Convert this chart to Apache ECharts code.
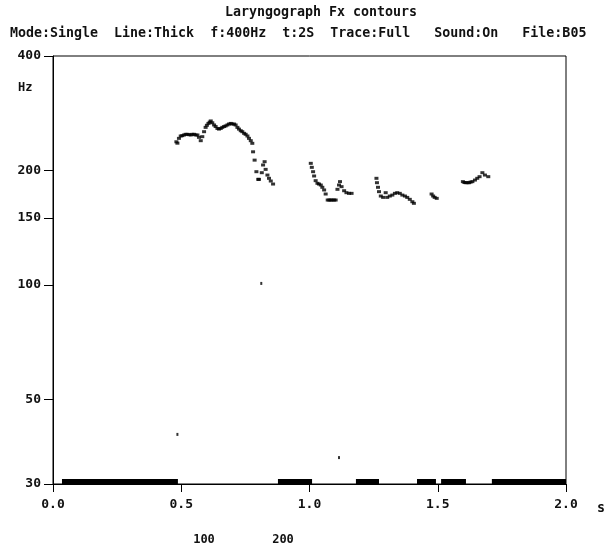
<!DOCTYPE html>
<html>
<head>
<meta charset="utf-8">
<script src="https://cdn.jsdelivr.net/npm/echarts@6/dist/echarts.min.js"></script>
<style>
  html, body { margin: 0; padding: 0; background: #fff; }
  #chart { width: 608px; height: 550px; }
</style>
</head>
<body>
<div id="chart"></div>
<script>
// Fx contour: [time s, Fx Hz]
const contour1 = [
  [0.481, 238], [0.485, 236], [0.491, 243], [0.498, 246.5], [0.504, 247], [0.511, 248], [0.517, 249],
  [0.524, 249], [0.530, 248.5], [0.537, 248], [0.543, 249], [0.550, 249], [0.556, 248], [0.563, 248],
  [0.569, 244.5], [0.576, 239.6], [0.582, 245.5], [0.589, 253], [0.595, 259.7], [0.600, 263],
  [0.606, 266], [0.611, 268], [0.615, 270], [0.621, 267], [0.628, 263.5], [0.634, 261], [0.641, 258],
  [0.647, 257], [0.654, 258], [0.660, 259.7], [0.667, 261], [0.673, 262], [0.680, 263.5], [0.686, 265],
  [0.693, 266], [0.699, 265], [0.706, 265], [0.712, 263.5], [0.719, 259.7], [0.725, 257], [0.732, 254.5],
  [0.738, 253], [0.745, 250.5], [0.751, 249], [0.758, 246.5], [0.764, 243], [0.771, 239.6], [0.777, 235.8]
]
const contour1Tail = [
  [0.780, 224], [0.786, 213], [0.793, 198.6], [0.800, 189.6], [0.803, 189.6], [0.814, 197.4],
  [0.819, 206.8], [0.825, 211], [0.829, 201.4], [0.836, 194.6], [0.842, 190.8], [0.849, 187.7], [0.858, 184.3]
]
const contour2 = [
  [1.005, 208.9], [1.009, 203.9], [1.014, 198.6], [1.018, 193.5], [1.024, 188.1], [1.031, 185.1],
  [1.037, 184.3], [1.044, 183.2], [1.050, 180.7], [1.057, 177.8], [1.063, 173.5],
  [1.071, 167.3], [1.077, 167.3], [1.083, 167.3], [1.089, 167.3], [1.096, 167.3], [1.102, 167.3],
  [1.109, 178.5], [1.115, 183.2], [1.119, 187], [1.125, 181.4], [1.135, 177], [1.144, 174.9],
  [1.154, 174.2], [1.164, 174.2]
]
const contour3 = [
  [1.261, 190.8], [1.263, 185.8], [1.267, 180.7], [1.271, 176], [1.278, 171.4], [1.287, 170],
  [1.297, 174.9], [1.303, 170], [1.313, 171.4], [1.323, 172.4], [1.333, 174.2], [1.342, 174.9],
  [1.352, 174.2], [1.362, 172.4], [1.372, 171.4], [1.381, 170], [1.391, 168], [1.401, 165.6], [1.407, 164]
]
const contour4 = [[1.476, 173.5], [1.482, 171.4], [1.488, 170], [1.496, 169]]
const contour5 = [
  [1.598, 187], [1.604, 186], [1.609, 185.8], [1.616, 185.8], [1.622, 185.8], [1.628, 186.5],
  [1.635, 187], [1.645, 188.8], [1.654, 190.8], [1.663, 192.7], [1.674, 197.4], [1.684, 194.6], [1.697, 192.7]
]
const strayPoints = [[0.485, 40.5], [0.812, 101], [1.115, 35.2]]

// voicing bars along the 30 Hz baseline: [start s, end s]
const voicedSpans = [[0.035, 0.487], [0.877, 1.010], [1.181, 1.271], [1.419, 1.493], [1.513, 1.610], [1.711, 2.0]]

const yTicks = [30, 50, 100, 150, 200, 400]
const title = 'Laryngograph Fx contours'
const statusLine = 'Mode:Single  Line:Thick  f:400Hz  t:2S  Trace:Full   Sound:On   File:B05'
const bottomLabels = [{ text: '100', x: 204 }, { text: '200', x: 283 }]

const font = 'DejaVu Sans Mono'
const txt = { fontFamily: font, fontWeight: 'bold', fontSize: 13, color: '#111' }

const chart = echarts.init(document.getElementById('chart'))

const contours = [].concat(contour1, contour1Tail, contour2, contour3, contour4, contour5)

const option = {
  animation: false,
  backgroundColor: '#fff',
  grid: {
    left: 53, right: 42, top: 56, bottom: 66,
    show: true, borderColor: '#000', borderWidth: 1,
    outerBoundsMode: 'none'
  },
  xAxis: {
    type: 'value',
    min: 0, max: 2, interval: 0.5,
    axisLine: { lineStyle: { color: '#000', width: 1 } },
    axisTick: { length: 8, lineStyle: { color: '#000' } },
    axisLabel: Object.assign({ margin: 14, formatter: v => v.toFixed(1) }, txt),
    splitLine: { show: false }
  },
  yAxis: {
    type: 'log',
    logBase: 10,
    min: 30, max: 400,
    axisLine: { show: true, lineStyle: { color: '#000', width: 1 } },
    axisTick: { show: true, length: 9, customValues: yTicks, lineStyle: { color: '#000' } },
    axisLabel: Object.assign({ margin: 12, customValues: yTicks, formatter: v => String(Math.round(v)) }, txt),
    splitLine: { show: false }
  },
  graphic: [
    { type: 'text', left: 225, top: 6, style: { text: title, font: `bold 13.3px "${font}"`, fill: '#111' } },
    { type: 'text', left: 10, top: 27, style: { text: statusLine, font: `bold 13.3px "${font}"`, fill: '#111' } },
    { type: 'text', left: 18, top: 82, style: { text: 'Hz', font: `bold 12px "${font}"`, fill: '#111' } },
    { type: 'text', left: 597, top: 502, style: { text: 's', font: `bold 13.3px "${font}"`, fill: '#111' } }
  ].concat(bottomLabels.map(b => ({
    type: 'text', x: b.x, y: 540,
    style: { text: b.text, font: `bold 12px "${font}"`, fill: '#111', align: 'center', verticalAlign: 'middle' }
  }))),
  series: [
    {
      type: 'scatter',
      data: contours,
      symbol: 'rect',
      symbolSize: [4, 3],
      itemStyle: { color: '#000' },
      silent: true
    },
    {
      type: 'scatter',
      data: strayPoints,
      symbol: 'rect',
      symbolSize: [2, 3],
      itemStyle: { color: '#000' },
      silent: true
    },
    {
      type: 'custom',
      data: voicedSpans.map(s => [s[0], s[1], 30]),
      encode: { x: [0, 1], y: 2 },
      silent: true,
      renderItem (params, api) {
        const a = api.coord([api.value(0), 30])
        const b = api.coord([api.value(1), 30])
        return {
          type: 'rect',
          shape: { x: a[0], y: a[1] - 5, width: b[0] - a[0], height: 5 },
          style: { fill: '#000' }
        }
      }
    }
  ]
}

chart.setOption(option)
</script>
</body>
</html>
